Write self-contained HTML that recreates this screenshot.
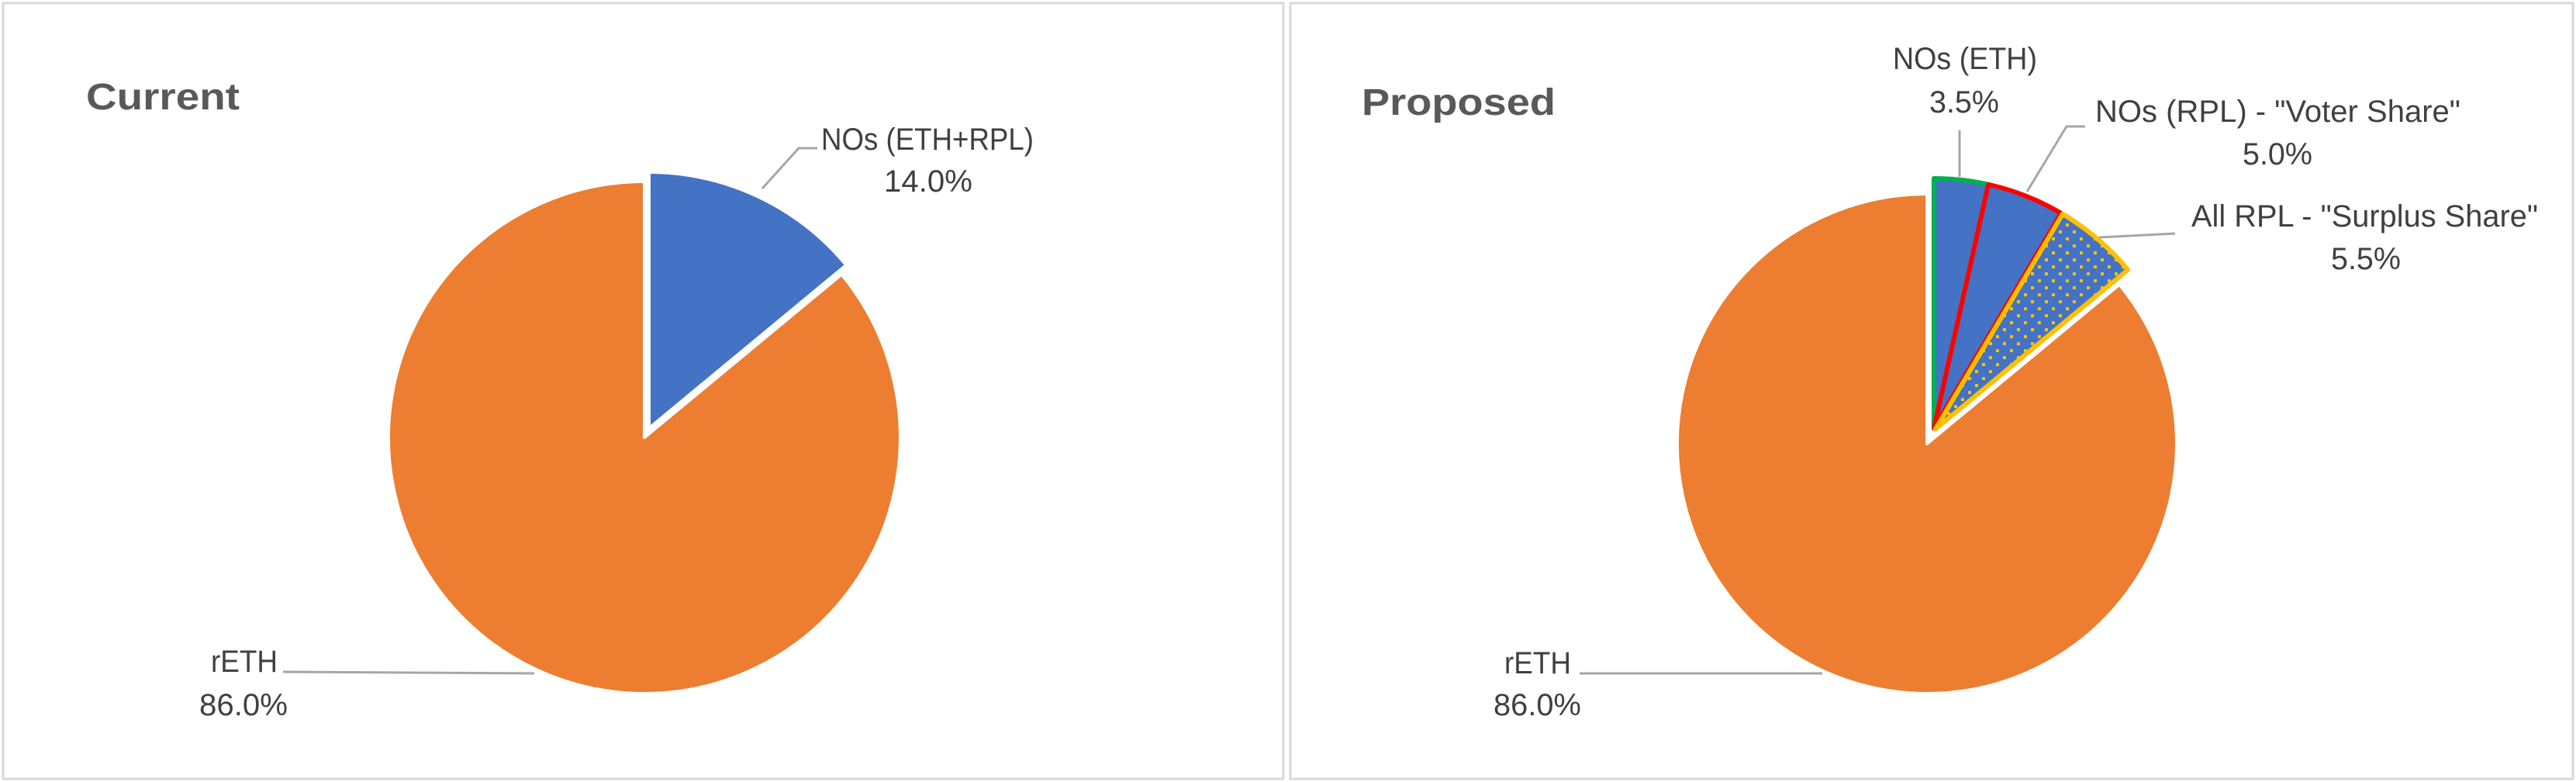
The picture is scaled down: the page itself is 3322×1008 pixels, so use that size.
<!DOCTYPE html>
<html><head><meta charset="utf-8"><style>
html,body{margin:0;padding:0;background:#fff;}
svg{display:block;}
text{font-family:"Liberation Sans",sans-serif;fill:#404040;}
</style></head><body>
<svg id="chart" width="3322" height="1008" viewBox="0 0 3322 1008" xmlns="http://www.w3.org/2000/svg">
<defs>
<pattern id="dots" patternUnits="userSpaceOnUse" width="18" height="18">
<rect width="18" height="18" fill="#4472c4"/>
<rect x="0" y="0" width="4" height="4" fill="#ffc000"/>
<rect x="9" y="9" width="4" height="4" fill="#ffc000"/>
</pattern>
</defs>
<rect x="4" y="4" width="1651" height="1000" fill="#fff" stroke="#d9d9d9" stroke-width="3"/>
<rect x="1664" y="4" width="1654" height="1000" fill="#fff" stroke="#d9d9d9" stroke-width="3"/>
<text x="111" y="141" font-size="48" font-weight="bold" style="fill:#595959" textLength="198" lengthAdjust="spacingAndGlyphs">Current</text>
<text x="1756" y="148" font-size="48" font-weight="bold" style="fill:#595959" textLength="250" lengthAdjust="spacingAndGlyphs">Proposed</text>
<g id="g1"></g>
<g id="g2"></g>
<g stroke="#a6a6a6" stroke-width="3" fill="none">
<polyline points="1054,191 1030,191 983,243"/>
<polyline points="365,866 689,868"/>
<polyline points="2527,168 2527,228"/>
<polyline points="2689,163 2665,163 2614,247"/>
<polyline points="2805,301 2707,306"/>
<polyline points="2037,868 2350,868"/>
</g>
<g font-size="40">
<text x="1059" y="193" textLength="274" lengthAdjust="spacingAndGlyphs">NOs (ETH+RPL)</text>
<text x="1197" y="247" text-anchor="middle" textLength="114" lengthAdjust="spacingAndGlyphs">14.0%</text>
<text x="358" y="866" text-anchor="end" textLength="86" lengthAdjust="spacingAndGlyphs">rETH</text>
<text x="257" y="922" textLength="114" lengthAdjust="spacingAndGlyphs">86.0%</text>
<text x="2441" y="89" textLength="186" lengthAdjust="spacingAndGlyphs">NOs (ETH)</text>
<text x="2533" y="145" text-anchor="middle" textLength="90" lengthAdjust="spacingAndGlyphs">3.5%</text>
<text x="2702" y="157" textLength="471" lengthAdjust="spacingAndGlyphs">NOs (RPL) - "Voter Share"</text>
<text x="2937" y="212" text-anchor="middle" textLength="90" lengthAdjust="spacingAndGlyphs">5.0%</text>
<text x="2826" y="292" textLength="447" lengthAdjust="spacingAndGlyphs">All RPL - "Surplus Share"</text>
<text x="3051" y="347" text-anchor="middle" textLength="90" lengthAdjust="spacingAndGlyphs">5.5%</text>
<text x="2026" y="868" text-anchor="end" textLength="86" lengthAdjust="spacingAndGlyphs">rETH</text>
<text x="1926" y="922" textLength="113" lengthAdjust="spacingAndGlyphs">86.0%</text>
</g>
</svg>
<script>
const currentCategories = ["NOs (ETH+RPL)", "rETH"];
const currentValues = [14.0, 86.0];
const proposedCategories = ["NOs (ETH)", "NOs (RPL) - Voter Share", "All RPL - Surplus Share", "rETH"];
const proposedValues = [3.5, 5.0, 5.5, 86.0];

const NS = "http://www.w3.org/2000/svg";
function angleOf(cum, total){ return cum / total * 2 * Math.PI; }
function pt(cx, cy, r, a){ return [cx + r * Math.sin(a), cy - r * Math.cos(a)]; }
function slicePath(cx, cy, r, a0, a1){
  const p0 = pt(cx, cy, r, a0), p1 = pt(cx, cy, r, a1);
  const large = (a1 - a0) > Math.PI ? 1 : 0;
  return "M" + cx + "," + cy + " L" + p0[0] + "," + p0[1] + " A" + r + "," + r + " 0 " + large + " 1 " + p1[0] + "," + p1[1] + " Z";
}
function drawPie(gid, cats, vals, cx, cy, r, styles, explode){
  const g = document.getElementById(gid);
  const total = vals.reduce((s, v) => s + v, 0);
  let cum = 0;
  vals.forEach((v, i) => {
    const a0 = angleOf(cum, total), a1 = angleOf(cum + v, total);
    cum += v;
    const st = styles[i];
    let dx = 0, dy = 0;
    if (explode[i]) { dx = explode[i][0]; dy = explode[i][1]; }
    const p = document.createElementNS(NS, "path");
    p.setAttribute("d", slicePath(cx + dx, cy + dy, r, a0, a1));
    p.setAttribute("fill", st.fill);
    p.setAttribute("stroke", st.stroke);
    p.setAttribute("stroke-width", st.sw);
    p.setAttribute("stroke-linejoin", "round");
    
    
    g.appendChild(p);
  });
}
// current
drawPie("g1", currentCategories, currentValues, 831, 564, 330,
  [{fill:"#4472c4", stroke:"#fff", sw:4}, {fill:"#ed7d31", stroke:"#fff", sw:4}],
  [[6, -12], null]);
// proposed
drawPie("g2", proposedCategories, proposedValues, 2485, 572, 322,
  [{fill:"#4472c4", stroke:"#00b050", sw:6},
   {fill:"#4472c4", stroke:"#ff0000", sw:6},
   {fill:"url(#dots)", stroke:"#ffc000", sw:6},
   {fill:"#ed7d31", stroke:"#fff", sw:4}],
  [[9, -20], [9, -20], [11, -19], null]);
</script>
</body></html>
